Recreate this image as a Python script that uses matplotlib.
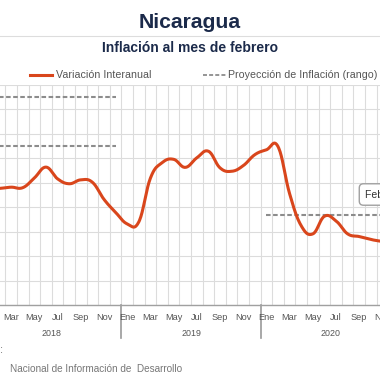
import numpy as np
import matplotlib
matplotlib.use("Agg")
import matplotlib.pyplot as plt
from matplotlib.lines import Line2D
import matplotlib.transforms as mtransforms

# ---------------- data ----------------
month_labels = ["Ene", "Feb", "Mar", "Abr", "May", "Jun", "Jul", "Ago", "Sep", "Oct", "Nov", "Dic"]
years = ["2018", "2019", "2020"]
shown_months = ["Ene", "Mar", "May", "Jul", "Sep", "Nov"]

inflacion_2018 = [4.75, 4.77, 4.82, 4.80, 5.20, 5.64, 5.16, 4.96, 5.12, 5.02, 4.32, 3.79]
inflacion_2019 = [3.32, 3.40, 5.19, 5.82, 5.96, 5.63, 6.02, 6.29, 5.61, 5.47, 5.70, 6.15]
inflacion_2020 = [6.35, 6.48, 4.55, 3.24, 2.91, 3.63, 3.44, 2.91, 2.80, 2.68, 2.60, 2.54]

proy_2018_min = 6.5
proy_2018_max = 8.5
proy_2020_min = 3.7

titulo = "Nicaragua"
subtitulo = "Inflación al mes de febrero"
leyenda_linea = "Variación Interanual"
leyenda_proy = "Proyección de Inflación (rango)"
fuente_1 = "Fuente:"
fuente_2 = "Nacional de Información de  Desarrollo"
tooltip = "Feb 2021"

# ---------------- helpers ----------------
W = H = 380.0
def fx(px):
    return px / W
def fy(py):
    return 1 - py / H

def spline(x, y, frac=0.4, n=20):
    x = np.asarray(x, float); y = np.asarray(y, float)
    xs, ys = [x[0]], [y[0]]
    N = len(x)
    for i in range(N - 1):
        x0, y0, x1, y1 = x[i], y[i], x[i + 1], y[i + 1]
        if 0 < i:
            s0 = (y[i + 1] - y[i - 1]) / (x[i + 1] - x[i - 1])
        else:
            s0 = (y1 - y0) / (x1 - x0)
        if i + 2 < N:
            s1 = (y[i + 2] - y[i]) / (x[i + 2] - x[i])
        else:
            s1 = (y1 - y0) / (x1 - x0)
        dx = x1 - x0
        c0x, c0y = x0 + frac * dx, y0 + s0 * frac * dx
        c1x, c1y = x1 - frac * dx, y1 - s1 * frac * dx
        t = np.linspace(0, 1, n)[1:]
        bx = (1 - t) ** 3 * x0 + 3 * (1 - t) ** 2 * t * c0x + 3 * (1 - t) * t ** 2 * c1x + t ** 3 * x1
        by = (1 - t) ** 3 * y0 + 3 * (1 - t) ** 2 * t * c0y + 3 * (1 - t) * t ** 2 * c1y + t ** 3 * y1
        xs.extend(bx); ys.extend(by)
    return np.array(xs), np.array(ys)

# ---------------- figure ----------------
plt.rcParams['font.family'] = ['Liberation Sans', 'DejaVu Sans']
fig = plt.figure(figsize=(3.8, 3.8), dpi=100)
fig.patch.set_facecolor("white")

ax_top, ax_bot = 85.0, 305.0
ax = fig.add_axes([0, fy(ax_bot), 1, (ax_bot - ax_top) / H])

values = inflacion_2018 + inflacion_2019 + inflacion_2020
months = np.arange(len(values))

# grid
ax.set_xticks(np.arange(-0.5, len(values) + 0.5, 1), minor=True)
ax.set_xticks([])
ax.set_yticks(np.arange(0, 10, 1))
ax.tick_params(which='both', length=0, labelleft=False, labelbottom=False)
ax.grid(which='minor', axis='x', color='#dcdcdc', lw=0.8)
ax.grid(which='major', axis='y', color='#dcdcdc', lw=0.8)
for s in ['top', 'left', 'right']:
    ax.spines[s].set_visible(False)
ax.spines['bottom'].set_color('#a0a0a0')
ax.spines['bottom'].set_linewidth(1.0)
ax.set_axisbelow(True)

# projection lines
dash = (2.2, 1.2)
m18 = np.arange(0, 12)
ax.plot(m18, [proy_2018_max] * 12, color='#8c8c8c', lw=1.5, dashes=dash)
ax.plot(m18, [proy_2018_min] * 12, color='#8c8c8c', lw=1.5, dashes=dash)
m20 = np.arange(24, 36)
ax.plot(m20, [proy_2020_min] * 12, color='#8c8c8c', lw=1.5, dashes=dash)

# inflation line (smoothed)
sx, sy = spline(months, values)
ax.plot(sx, sy, color='#d9461c', lw=2.2, solid_capstyle='round', zorder=5)

XMIN, XMAX = 1.034, 33.79
ax.set_xlim(XMIN, XMAX)
ax.set_ylim(0, 9)

# x labels
trans = mtransforms.blended_transform_factory(ax.transData, ax.transAxes)
def ya(py):
    return (ax_bot - py) / (ax_bot - ax_top)
for yi, yr in enumerate(years):
    for mi, mn in enumerate(month_labels):
        pos = yi * 12 + mi
        if mn in shown_months and XMIN < pos < XMAX + 0.6:
            ax.text(pos, ya(317), mn, transform=trans, ha='center', va='center',
                    fontsize=6.6, color='#555555', clip_on=False)
    ax.text(yi * 12 + 5.5, ya(333), yr, transform=trans, ha='center', va='center',
            fontsize=6.4, color='#555555', clip_on=False)
    if yi > 0:
        ax.plot([yi * 12 - 0.5] * 2, [0, ya(338)], transform=trans, color='#999999',
                lw=1.2, clip_on=False)

# title, subtitle, separator
fig.text(0.5, fy(22.5), titulo, ha='center', va='center', fontsize=15.2,
         fontweight='bold', color='#1b2a4a')
fig.add_artist(Line2D([0, 1], [fy(36), fy(36)], color='#dddddd', lw=0.8))
fig.text(0.5, fy(48.5), subtitulo, ha='center', va='center', fontsize=10,
         fontweight='bold', color='#1b2a4a')

# legend
fig.add_artist(Line2D([fx(30), fx(52)], [fy(75), fy(75)], color='#d9461c', lw=2.2))
fig.text(fx(55.5), fy(74.5), leyenda_linea, ha='left', va='center', fontsize=7.7, color='#555555')
fig.add_artist(Line2D([fx(203), fx(226)], [fy(74.5), fy(74.5)], color='#8c8c8c', lw=1.3,
                      dashes=(2.2, 1.2)))
fig.text(fx(228), fy(74.5), leyenda_proy, ha='left', va='center', fontsize=7.7, color='#555555')

# tooltip
fig.text(fx(365), fy(194.5), tooltip, ha='left', va='center', fontsize=7.5, color='#333333',
         bbox=dict(boxstyle='round,pad=0.55,rounding_size=0.4', fc='white', ec='#a0a0a0', lw=1.0))

# source
fig.text(fx(3), fy(350), fuente_1, ha='right', va='center', fontsize=7.2, color='#555555')
fig.text(fx(9.5), fy(368.5), fuente_2, ha='left', va='center', fontsize=7.2, color='#777777')

fig.savefig("out.png", dpi=100, facecolor='white')
